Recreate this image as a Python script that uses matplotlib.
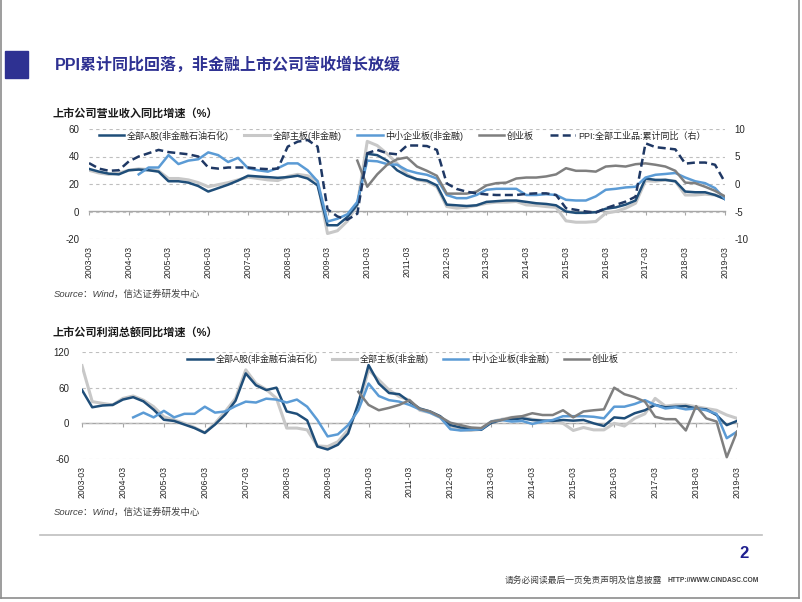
import matplotlib
matplotlib.use("Agg")
import matplotlib.pyplot as plt
from matplotlib.patches import Rectangle
from matplotlib.lines import Line2D
import numpy as np

plt.rcParams['font.family'] = ['Liberation Sans', 'Noto Sans CJK SC', 'DejaVu Sans']
plt.rcParams['axes.unicode_minus'] = False

# ---------------- data ----------------
year_labels = [f"{y}-03" for y in range(2003, 2020)]
series_names = ["全部A股(非金融石油石化)", "全部主板(非金融)", "中小企业板(非金融)", "创业板"]
ppi_name = "PPI:全部工业品:累计同比（右）"

N = None
# quarterly, 2003-03 ... 2019-03
rev_all = [31, 29, 27.5, 27, 30, 30.5, 30, 29, 22, 22, 21, 18.5, 14.5, 17, 19.5, 22.5,
           26, 25.5, 25, 24.5, 25, 26, 24, 19, -10, -10, -4, 5, 42, 41, 37, 30,
           26, 23.5, 22.5, 19, 5, 4.5, 4, 4.5, 7, 7.5, 8, 8, 7, 6, 5.5, 4.5,
           0, -1, -1, -0.5, 2, 3, 5, 8, 24, 23, 23, 22, 14.5, 14, 14, 12, 9]
rev_main = [30, 28, 27, 28, 30, 31, 30.5, 29.5, 24, 24, 23, 21, 18, 19.5, 21, 23,
            25, 24, 23, 22.5, 25.5, 27, 26, 22, -16, -14, -7, 5, 51, 48, 42, 35,
            27, 23, 21.8, 18, 3.6, 2.4, 3, 4.4, 6, 6.8, 6.8, 7.3, 4.8, 4.4, 3.6, 3,
            -6.8, -7.8, -7.8, -7.3, -1.2, 0, 2.4, 6, 22.3, 22, 23, 22, 12, 12, 12.6, 12, 9.7]
rev_sme = [N, N, N, N, N, 27, 32, 32, 41, 34.5, 37, 38, 43, 41, 36, 39,
           31.5, 30, 29, 31.5, 35, 35, 30, 22, -7.3, -5.3, -2, 7, 37, 36.5, 34.5, 34,
           30, 28, 26.7, 24, 12, 9.7, 9.7, 12, 15.8, 16.5, 16.5, 16.5, 12, 12, 12.6, 12,
           8.5, 8, 8, 11, 15.8, 16.5, 17.5, 18, 24.7, 26.7, 27.3, 28, 24.7, 22, 20.6, 17, 9]
rev_gem = [N] * 27 + [37, 18, 27, 34, 38,
           39.3, 32.7, 29.6, 26, 13, 13, 13, 14.5, 19, 20.6, 21, 24, 24.7, 24.7, 25.5, 27,
           31.5, 29.6, 29.6, 29, 32.7, 33.3, 32.7, 34.4, 35, 34, 32.7, 29.6, 21, 20.6, 18, 15, 11]
ppi = [3.8, 2.8, 2.4, 2.5, 4.1, 5, 5.6, 6.2, 5.8, 5.6, 5.4, 5, 3, 2.8, 3, 3,
       3, 2.8, 2.7, 2.8, 6.8, 7.7, 8, 6.8, -4.6, -5.9, -6.5, -5.4, 5.6, 6.2, 5.6, 5.4,
       7, 7, 6.9, 6.2, 0.1, -0.9, -1.4, -1.7, -1.9, -2, -2, -2, -1.8, -1.7, -1.7, -2,
       -4.4, -4.7, -5, -5.2, -4.4, -3.8, -3.2, -2.3, 7.4, 6.7, 6.5, 6.3, 3.7, 3.9, 3.9, 3.5, 0.3]

prof_all = [56, 27, 30, 31, 40, 44, 37, 23, 6, 4, -2, -8, -16, -2, 15, 38,
            84, 64, 56, 60, 20, 16, 5, -39, -44, -36, -17, 34, 98, 67, 51, 49,
            36.5, 25, 20, 12, -3, -7, -8, -11, 1, 5.6, 6.7, 8.4, 5.6, 4.5, 4, 5.6,
            4.5, 5.6, 0, -4.5, 10, 8.4, 17, 22, 31, 27, 28, 29, 25, 23.5, 14, -3, 4]
prof_main = [97, 36.5, 33.6, 31, 42, 46, 39, 28, 11, 5.6, 0, -7, -16, 0, 20, 42,
             90, 67, 57, 42, -8, -8, -11, -38, -39, -31, -11, 28, 90, 73, 56, 45,
             39, 22, 18, 10, -8, -11, -12, -10, 3, 6.7, 10, 11, 6.7, 4.5, 3, 0,
             -12, -7, -11, -11, 0, -4.5, 8.4, 16, 42, 29, 31, 31, 28, 25, 22, 14, 8.4]
prof_sme = [N, N, N, N, N, 10, 18, 10, 21, 10, 16, 16, 28, 18, 20, 29,
            36.5, 35, 41.5, 40, 35, 40, 28, 5.6, -22, -18.5, -3, 22, 67, 46, 39, 36.5,
            31, 23.5, 18, 10, -10, -12, -11, -10, 3, 5.6, 3, 4, -1, 3, 5.6, 12,
            12, 12, 11, 8.4, 28, 28, 32.5, 39, 31, 25, 27, 23.5, 25, 22, 16, -25, -14]
prof_gem = [N] * 27 + [53, 31, 22, 26, 31,
            39, 24, 20, 11, 1, -3, -7, -8, 3, 5.6, 10, 12, 17, 14, 14, 22,
            10, 20, 22, 23.5, 60, 49, 44, 36.5, 11, 7, 7, -12, 29, 8.4, 3, -57, -14]

rev_yticks = [-20, 0, 20, 40, 60]
ppi_yticks = [-10, -5, 0, 5, 10]
prof_yticks = [-60, 0, 60, 120]

# ---------------- styles ----------------
C_NAVY = '#1F4E79'
C_LGRAY = '#C8C8C8'
C_LBLUE = '#5B9BD5'
C_GRAY = '#7F7F7F'
C_DASH = '#1F3864'
C_TITLE = '#2E3192'
GRID = '#BFBFBF'
TXT = '#262626'
DASH = (0, (3.2, 1.7))

W, H = 802, 602
def fx(x): return x / W
def fy(y): return 1 - y / H

fig = plt.figure(figsize=(W / 100, H / 100), dpi=100)

def to_arr(v):
    return np.array([np.nan if a is None else a for a in v], dtype=float)

def style_axis(ax, yticks, ylim, ypad, xpad):
    n = len(rev_all)
    x = np.arange(n)
    ax.set_xlim(0, n - 1)
    ax.set_ylim(*ylim)
    ax.set_yticks(yticks)
    ax.set_yticklabels([str(t) for t in yticks])
    ax.tick_params(axis='y', length=0, pad=ypad, labelsize=7, labelcolor=TXT)
    xt = list(range(0, n, 4))
    ax.set_xticks(xt)
    ax.set_xticklabels(year_labels, rotation=90)
    ax.tick_params(axis='x', length=0, pad=xpad, labelsize=6.2, labelcolor=TXT)
    for s in ax.spines.values():
        s.set_visible(False)
    ax.grid(axis='y', color=GRID, linestyle=(0, (3, 3)), linewidth=0.8)
    ax.set_axisbelow(True)
    zero_frac = (0 - ylim[0]) / (ylim[1] - ylim[0])
    sec = ax.secondary_xaxis(zero_frac)
    sec.set_xticks(xt)
    sec.tick_params(axis='x', direction='out', length=3, color='#A6A6A6',
                    labelbottom=False, labeltop=False)
    sec.spines['bottom'].set_color('#A6A6A6')
    sec.spines['bottom'].set_linewidth(1.0)
    return x

# ---------------- top chart ----------------
ax1 = fig.add_axes([fx(89), fy(239), fx(725) - fx(89), (239 - 129) / H])
x = style_axis(ax1, rev_yticks, (-20, 60), 7, 5)
ax1.plot(x, to_arr(rev_main), color=C_LGRAY, lw=2.2, zorder=2, label=series_names[1])
ax1.plot(x, to_arr(rev_all), color=C_NAVY, lw=1.8, zorder=3, label=series_names[0])
ax1.plot(x, to_arr(rev_sme), color=C_LBLUE, lw=1.8, zorder=4, label=series_names[2])
ax1.plot(x, to_arr(rev_gem), color=C_GRAY, lw=1.8, zorder=5, label=series_names[3])

ax1r = ax1.twinx()
ax1r.set_ylim(-10, 10)
ax1r.set_yticks(ppi_yticks)
ax1r.set_yticklabels([str(t) for t in ppi_yticks])
ax1r.tick_params(axis='y', length=0, pad=7, labelsize=7, labelcolor=TXT)
for s in ax1r.spines.values():
    s.set_visible(False)
ax1r.plot(x, to_arr(ppi), color=C_DASH, lw=1.8, linestyle=DASH, label=ppi_name)

h1 = [Line2D([], [], color=C_NAVY, lw=1.8),
      Line2D([], [], color=C_LGRAY, lw=2.2),
      Line2D([], [], color=C_LBLUE, lw=1.8),
      Line2D([], [], color=C_GRAY, lw=1.8),
      Line2D([], [], color=C_DASH, lw=1.8, linestyle=DASH)]
fig.legend(h1, series_names + [ppi_name], loc='center', ncol=5,
           bbox_to_anchor=(fx(402), fy(135.5)), frameon=False, fontsize=6.5,
           handlelength=2.8, handletextpad=0.3, columnspacing=1.75, labelcolor=TXT)

# ---------------- bottom chart ----------------
ax2 = fig.add_axes([fx(82), fy(459), fx(737) - fx(82), (459 - 352) / H])
x = style_axis(ax2, prof_yticks, (-60, 120), 9, 5)
ax2.plot(x, to_arr(prof_main), color=C_LGRAY, lw=2.2, zorder=2)
ax2.plot(x, to_arr(prof_all), color=C_NAVY, lw=1.8, zorder=3)
ax2.plot(x, to_arr(prof_sme), color=C_LBLUE, lw=1.8, zorder=4)
ax2.plot(x, to_arr(prof_gem), color=C_GRAY, lw=1.8, zorder=5)
fig.legend(h1[:4], series_names, loc='center', ncol=4,
           bbox_to_anchor=(fx(403), fy(359)), frameon=False, fontsize=6.5,
           handlelength=2.8, handletextpad=0.3, columnspacing=1.6, labelcolor=TXT)

# ---------------- slide decoration ----------------
fig.patches.append(Rectangle((fx(5), fy(78)), (28 - 5) / W, (78 - 51) / H,
                             transform=fig.transFigure, color=C_TITLE, zorder=0))
fig.text(fx(55), fy(65), "PPI累计同比回落，非金融上市公司营收增长放缓", ha='left', va='center',
         fontsize=11.5, fontweight='bold', color=C_TITLE)
fig.text(fx(53), fy(113), "上市公司营业收入同比增速（%）", ha='left', va='center',
         fontsize=8, fontweight='bold', color='#1A1A1A')
fig.text(fx(54), fy(294), "Source：Wind，信达证券研发中心", ha='left', va='center',
         fontsize=6.8, style='italic', color='#404040')
fig.text(fx(53), fy(332), "上市公司利润总额同比增速（%）", ha='left', va='center',
         fontsize=8, fontweight='bold', color='#1A1A1A')
fig.text(fx(54), fy(512), "Source：Wind，信达证券研发中心", ha='left', va='center',
         fontsize=6.8, style='italic', color='#404040')

fig.add_artist(Line2D([fx(40), fx(762)], [fy(535), fy(535)], color='#BFBFBF', lw=1.2))
fig.text(fx(744), fy(554), "2", ha='center', va='center', fontsize=12,
         fontweight='bold', color='#1F1F8F')
fig.text(fx(505), fy(581), "请务必阅读最后一页免责声明及信息披露", ha='left', va='center',
         fontsize=6.3, color='#404040')
fig.text(fx(668), fy(581), "HTTP://WWW.CINDASC.COM", ha='left', va='center',
         fontsize=4.8, fontweight='bold', color='#404040')

# frame
fig.add_artist(Line2D([fx(1), fx(1)], [fy(0), fy(598)], color='#8C8C8C', lw=1.2))
fig.add_artist(Line2D([fx(1), fx(799)], [fy(598), fy(598)], color='#8C8C8C', lw=1.2))
fig.add_artist(Line2D([fx(799), fx(799)], [fy(0), fy(598)], color='#8C8C8C', lw=1.2))

fig.savefig("out.png", dpi=100)
